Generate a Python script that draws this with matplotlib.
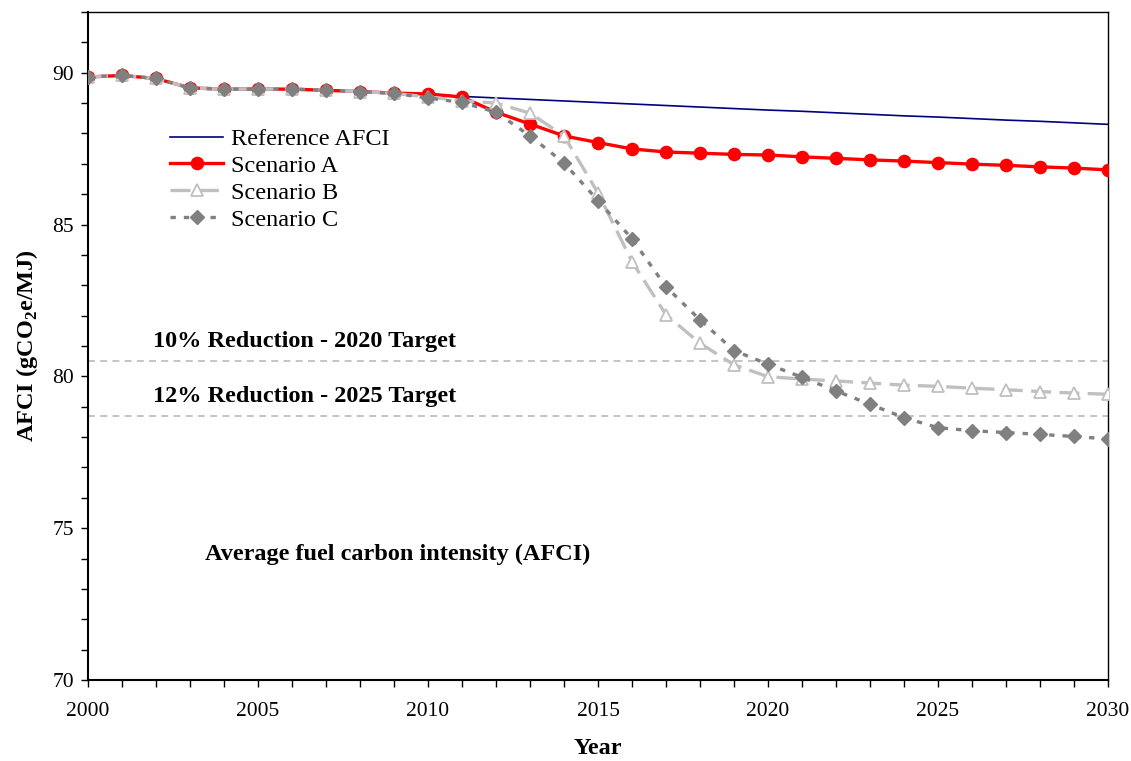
import matplotlib
matplotlib.use("Agg")
import matplotlib.pyplot as plt
from matplotlib.ticker import MultipleLocator

years = list(range(2000, 2031))
reference_afci = [89.86, 89.91, 89.81, 89.50, 89.46, 89.46, 89.46, 89.42, 89.38, 89.33,
                  89.30, 89.22, 89.17, 89.12, 89.07, 89.02, 88.97, 88.92, 88.87, 88.82,
                  88.77, 88.73, 88.68, 88.63, 88.58, 88.54, 88.49, 88.44, 88.40, 88.35, 88.30]
scenario_a = [89.86, 89.91, 89.81, 89.50, 89.46, 89.46, 89.46, 89.42, 89.38, 89.33,
              89.30, 89.20, 88.70, 88.31, 87.92, 87.70, 87.49, 87.39, 87.35, 87.31,
              87.29, 87.23, 87.18, 87.13, 87.09, 87.04, 86.99, 86.95, 86.90, 86.86, 86.80]
scenario_b = [89.86, 89.91, 89.81, 89.50, 89.46, 89.46, 89.46, 89.42, 89.38, 89.32,
              89.20, 89.08, 89.00, 88.67, 87.92, 86.04, 83.78, 82.03, 81.09, 80.38,
              79.99, 79.91, 79.85, 79.78, 79.71, 79.67, 79.61, 79.56, 79.50, 79.45, 79.41]
scenario_c = [89.86, 89.91, 89.81, 89.50, 89.46, 89.46, 89.46, 89.42, 89.38, 89.32,
              89.17, 89.02, 88.70, 87.92, 87.03, 85.79, 84.53, 82.95, 81.86, 80.85,
              80.40, 79.97, 79.52, 79.08, 78.64, 78.31, 78.21, 78.15, 78.09, 78.02, 77.94]
target_values = [80.5, 78.7]
target_labels = ["10% Reduction - 2020 Target", "12% Reduction - 2025 Target"]
series_labels = ["Reference AFCI", "Scenario A", "Scenario B", "Scenario C"]
x_ticks = [2000, 2005, 2010, 2015, 2020, 2025, 2030]
y_ticks = [70, 75, 80, 85, 90]
note_text = "Average fuel carbon intensity (AFCI)"

plt.rcParams['font.family'] = ['Liberation Serif', 'DejaVu Serif']
plt.rcParams['mathtext.fontset'] = 'custom'
plt.rcParams['mathtext.rm'] = 'Liberation Serif'
plt.rcParams['mathtext.bf'] = 'Liberation Serif:bold'

fig = plt.figure(figsize=(11.31, 7.61), dpi=100)
ax = fig.add_axes([88/1131, 1 - 680/761, (1108-88)/1131, (680-12)/761])

for tv in target_values:
    ax.axhline(tv, color='#b4b4b4', lw=1.1, linestyle=(0, (4.5, 3.5)), zorder=1)

ax.plot(years, reference_afci, color='#000080', lw=1.2, label=series_labels[0], zorder=2)
ax.plot(years, scenario_a, color='#ff0000', lw=2.4, marker='o', markersize=8.8,
        markerfacecolor='#ff0000', markeredgecolor='#ff0000', label=series_labels[1], zorder=3)
ax.plot(years, scenario_b, color='#c0c0c0', lw=2.4, linestyle=(0, (6, 2.5)), marker='^',
        markersize=8.5, markerfacecolor='white', markeredgecolor='#c0c0c0', markeredgewidth=1.3,
        label=series_labels[2], zorder=4)
ax.plot(years, scenario_c, color='#808080', lw=2.4, linestyle=(0, (1.6, 2.4)), marker='D',
        markersize=7, markerfacecolor='#808080', markeredgecolor='#808080',
        label=series_labels[3], zorder=5)

ax.set_xlim(2000, 2030)
ax.set_ylim(70, 92)
ax.set_xticks(x_ticks)
ax.set_yticks(y_ticks)
ax.xaxis.set_minor_locator(MultipleLocator(1))
ax.yaxis.set_minor_locator(MultipleLocator(1))
ax.tick_params(axis='both', which='both', direction='out', length=5, width=1, labelsize=15.5)
ax.tick_params(axis='x', which='both', pad=11)
ax.tick_params(axis='y', which='both', pad=5)
ax.tick_params(top=False, right=False)

for s in ax.spines.values():
    s.set_linewidth(1.0)
    s.set_color('black')
ax.spines['left'].set_linewidth(1.5)
ax.spines['bottom'].set_linewidth(1.5)

ax.set_xlabel("Year", fontsize=17.5, fontweight='bold')
ax.set_ylabel(r"AFCI (gCO$_\mathbf{2}$e/MJ)", fontsize=17.5, fontweight='bold')
ax.xaxis.set_label_coords(0.5, (680-748)/668)
ax.xaxis.label.set_va('center')
ax.yaxis.set_label_coords((27-88)/1020, 0.5)
ax.yaxis.label.set_va('center')

ax.text(2001.91, 81.14, target_labels[0], fontsize=17.5, fontweight='bold', va='center', ha='left')
ax.text(2001.91, 79.33, target_labels[1], fontsize=17.5, fontweight='bold', va='center', ha='left')
ax.text(2003.44, 74.12, note_text, fontsize=17.5, fontweight='bold', va='center', ha='left')

leg = ax.legend(loc='upper left', bbox_to_anchor=(170/1131, 1 - 128/761),
                bbox_transform=fig.transFigure, frameon=False, fontsize=17.5,
                handlelength=2.2, handletextpad=0.3, labelspacing=0.2, borderpad=0,
                borderaxespad=0)

fig.savefig("out.png", dpi=100)
